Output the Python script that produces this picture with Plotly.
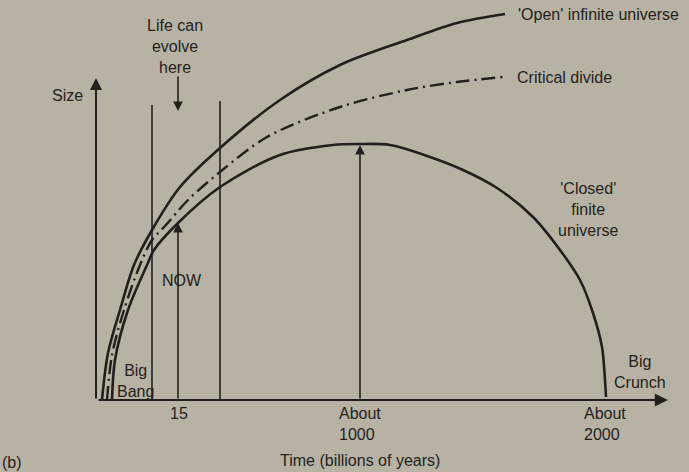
import plotly.graph_objects as go

# Schematic diagram units (origin at Big Bang on the time axis)
open_x = [5, 11, 23, 37, 55, 83, 123, 183, 243, 310, 360, 408]
open_y = [0, 47, 90, 135, 170, 213, 252, 300, 335, 360, 377, 386]

crit_x = [10, 15, 27, 43, 55, 68, 91, 123, 170, 243, 310, 360, 406]
crit_y = [0, 45, 90, 135, 160, 174, 200, 228, 263, 293, 310, 318, 323]

closed_x = [15, 18, 31, 50, 57, 81, 123, 183, 236, 263, 293, 333, 366, 400,
            436, 463, 483, 496, 505, 508, 509]
closed_y = [0, 40, 90, 135, 150, 177, 213, 245, 255, 256, 255, 243, 230, 212,
            183, 150, 120, 87, 53, 20, 3]

tick_pos = [82, 263, 508]
tick_text = ["15", "About<br>1000", "About<br>2000"]

BG = "rgb(184,178,165)"
INK = "rgb(35,31,28)"
FONT = "Liberation Sans, Arial, sans-serif"
FS = 16

fig = go.Figure()
fig.add_trace(go.Scatter(x=open_x, y=open_y, mode="lines",
                         line=dict(color=INK, width=2.6, shape="spline", smoothing=0.9)))
fig.add_trace(go.Scatter(x=crit_x, y=crit_y, mode="lines",
                         line=dict(color=INK, width=2.4, shape="spline", smoothing=0.9,
                                   dash="14px,5px,2px,5px")))
fig.add_trace(go.Scatter(x=closed_x, y=closed_y, mode="lines",
                         line=dict(color=INK, width=2.6, shape="spline", smoothing=0.9)))

def arrow(x0, y0, x1, y1, w=1.8):
    fig.add_annotation(x=x1, y=y1, ax=x0, ay=y0, xref="x", yref="y", axref="x", ayref="y",
                       showarrow=True, arrowhead=2, arrowsize=1.2, arrowwidth=w,
                       arrowcolor=INK, text="")

# axes
arrow(0, 0, 571, 0, 2.2)
arrow(-1, 0, -1, 322, 2.0)
# vertical markers
fig.add_shape(type="line", x0=55, x1=55, y0=0, y1=295, line=dict(color=INK, width=1.6))
fig.add_shape(type="line", x0=123, x1=123, y0=0, y1=299, line=dict(color=INK, width=1.6))
arrow(81, 0, 81, 177, 1.6)
arrow(263, 0, 263, 255, 1.6)
arrow(81, 325, 81, 289, 1.6)

def txt(x, y, s, anchor="center"):
    fig.add_annotation(x=x, y=y, xref="x", yref="y", text=s, showarrow=False,
                       xanchor=anchor, yanchor="middle", align="center",
                       font=dict(family=FONT, size=FS, color=INK))

for p, t in zip(tick_pos, tick_text):
    fig.add_annotation(x=p, y=-3, xref="x", yref="y", text=t, showarrow=False,
                       xanchor="center", yanchor="top", align="left",
                       font=dict(family=FONT, size=FS, color=INK))

txt(78, 354, "Life can<br>evolve<br>here")
txt(-30, 305, "Size")
txt(85, 120, "NOW")
txt(38, 19, "Big<br>Bang")
txt(263, -60, "Time (billions of years)")
txt(-85, -62, "(b)")
txt(543, 28, "Big<br>Crunch")
txt(491, 191, "'Closed'<br>finite<br>universe")
txt(419, 386, "'Open' infinite universe", "left")
txt(418, 323, "Critical divide", "left")

fig.update_layout(
    width=689, height=472,
    margin=dict(l=0, r=0, t=0, b=0),
    paper_bgcolor=BG, plot_bgcolor=BG,
    showlegend=False,
    xaxis=dict(range=[-97, 592], visible=False, fixedrange=True),
    yaxis=dict(range=[-72, 400], visible=False, fixedrange=True),
)
fig.write_html("out.html", config={"displayModeBar": False, "staticPlot": True},
               post_script="document.body.style.margin='0';document.body.style.overflow='hidden';")
